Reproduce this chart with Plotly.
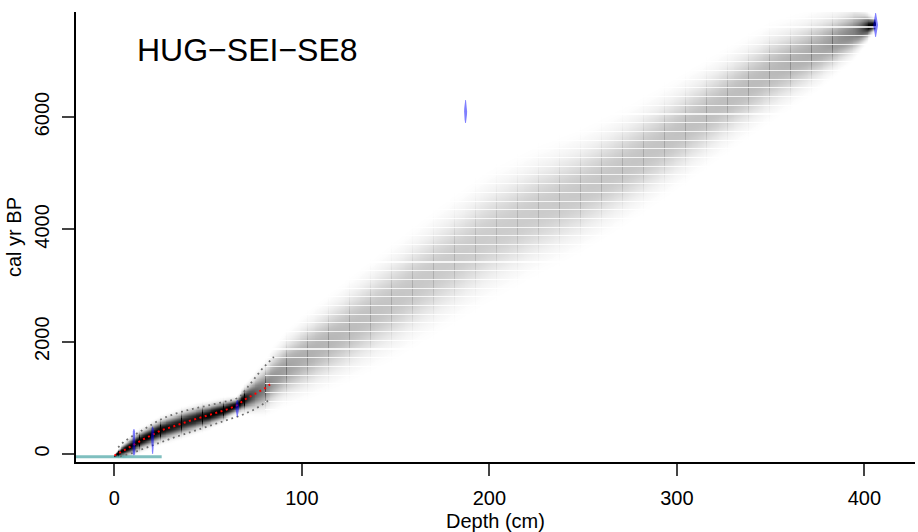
import numpy as np
import plotly.graph_objects as go

# ---------------- data ----------------
core_name = "HUG\u2212SEI\u2212SE8"

# age-depth model: mean age and visible half-width of the grey cloud
model_depth = [0, 2, 5, 10, 15, 20, 25, 30, 35, 40, 45, 50, 55, 60, 65, 70, 75, 80, 85, 90,
               100, 125, 150, 175, 200, 225, 250, 275, 300, 325, 350, 375, 395, 400, 406]
model_mean = [-40, 10, 60, 160, 255, 340, 425, 475, 535, 590, 640, 685, 740, 795, 860, 980,
              1070, 1165, 1330, 1480, 1690, 2200, 2740, 3320, 3880, 4320, 4700, 5170, 5700,
              6260, 6800, 7200, 7520, 7590, 7650]
model_halfwidth = [20, 60, 100, 140, 150, 160, 170, 180, 185, 185, 180, 170, 160, 140, 110,
                   180, 260, 330, 400, 440, 520, 640, 740, 800, 840, 820, 780, 740, 700, 660,
                   620, 500, 330, 220, 80]

# red dotted mean line
mean_depth = [0, 5, 10, 15, 20, 25, 30, 35, 40, 45, 50, 55, 60, 65, 70, 75, 80, 83]
mean_age = [-30, 60, 160, 255, 340, 425, 475, 535, 590, 640, 685, 740, 795, 860, 980, 1070, 1165, 1240]

# grey dotted 95% ranges
upper_depth = [2, 5, 9, 13, 17, 20, 24, 28, 33, 40, 47, 53, 60, 64, 67, 70, 74, 79, 85]
upper_age = [120, 220, 308, 390, 458, 520, 605, 665, 725, 790, 843, 890, 932, 970, 1020, 1150, 1318, 1526, 1730]
lower_depth = [3, 6, 10, 13.6, 20.7, 27.8, 33, 38.5, 44, 49, 55, 60, 64, 68, 74, 78, 83]
lower_age = [-40, -10, 20, 71, 160, 249, 310, 368, 430, 486, 545, 605, 650, 694, 784, 860, 974]

# calibrated dates (blue): depth, ages, half-width (cm) of the probability shape
date_depths = [10.4, 20.4, 65.5, 187.3, 406.0]
date_ages = [
    [-20, 0, 50, 100, 150, 200, 250, 300, 350, 400, 445],
    [0, 50, 100, 150, 200, 250, 300, 350, 400, 450, 500],
    [665, 700, 750, 800, 850, 900, 940, 962],
    [5895, 5950, 6000, 6050, 6100, 6150, 6200, 6250, 6305],
    [7427, 7480, 7540, 7600, 7640, 7680, 7740, 7800, 7854],
]
date_widths = [
    [0.2, 0.6, 0.7, 0.7, 0.7, 0.7, 0.7, 0.7, 0.7, 0.6, 0.2],
    [0.2, 0.45, 0.45, 0.5, 0.6, 0.85, 0.9, 0.9, 0.8, 0.55, 0.2],
    [0.2, 0.45, 0.75, 0.95, 0.95, 0.85, 0.5, 0.2],
    [0.2, 0.5, 0.65, 0.75, 0.8, 0.75, 0.65, 0.5, 0.2],
    [0.2, 0.5, 0.8, 1.1, 1.3, 1.1, 0.8, 0.5, 0.2],
]

# coring-date line (teal)
coring_depth = [-20.5, 25.2]
coring_age = [-48, -48]

x_ticks = [0, 100, 200, 300, 400]
y_ticks = [0, 2000, 4000, 6000]
x_range = [-20.5, 427]
y_range = [-142, 7872]

# ---------------- figure ----------------
FONT = "Liberation Sans, Arial, Helvetica, sans-serif"
fig = go.Figure()

# grey cloud rendered from the mean / width profile (with the raster seams of the original)
STRIPE_YR = 155.0          # spacing of the light raster seams
SEAM_CM = 11.2             # spacing of the dark column seams
xg = np.arange(0, 406.25, 0.5)
yg = np.arange(-150, 7900, STRIPE_YR / 16)
m = np.interp(xg, model_depth, model_mean)
s = np.interp(xg, model_depth, model_halfwidth) * 0.6
dark = np.minimum(1.0, 100.0 / s)
u = np.abs((yg[:, None] - m[None, :]) / s[None, :])
z = dark[None, :] * np.exp(-0.5 * u ** 2.3)
col_seam = (np.abs(((xg - 2.2 + SEAM_CM / 2) % SEAM_CM) - SEAM_CM / 2) < 0.26)
z[:, col_seam] = np.minimum(1.0, z[:, col_seam] * 1.5)
row_seam = (np.arange(len(yg)) % 16) < 2
wide = xg > 80
z[np.ix_(row_seam, wide)] *= 0.2
z = np.round(z, 3)
fig.add_trace(go.Heatmap(x=xg, y=yg, z=z, zmin=0, zmax=1,
                         colorscale=[[0, "rgba(255,255,255,0)"], [0.02, "rgb(250,250,250)"], [1, "black"]],
                         showscale=False, hoverinfo="skip"))

# teal coring line
fig.add_trace(go.Scatter(x=coring_depth, y=coring_age, mode="lines",
                         line=dict(color="rgba(0,128,128,0.5)", width=3), hoverinfo="skip"))

# grey dotted ranges
for dx, ay in [(upper_depth, upper_age), (lower_depth, lower_age)]:
    fig.add_trace(go.Scatter(x=dx, y=ay, mode="lines",
                             line=dict(color="rgb(110,110,110)", width=1.8, dash="1.8px,3.8px"),
                             hoverinfo="skip"))
# red dotted mean
fig.add_trace(go.Scatter(x=mean_depth, y=mean_age, mode="lines",
                         line=dict(color="red", width=2, dash="2px,3.5px"), hoverinfo="skip"))

# calibrated dates
for d, ages, ws in zip(date_depths, date_ages, date_widths):
    ages = np.array(ages, float)
    ws = np.array(ws, float)
    px = np.concatenate([d + ws, (d - ws)[::-1]])
    py = np.concatenate([ages, ages[::-1]])
    fig.add_trace(go.Scatter(x=px, y=py, mode="lines", fill="toself",
                             fillcolor="rgba(0,0,255,0.5)", line=dict(width=0),
                             hoverinfo="skip"))

fig.update_layout(
    width=918, height=532,
    margin=dict(l=76, r=3, t=12, b=70),
    paper_bgcolor="white", plot_bgcolor="white",
    showlegend=False,
    font=dict(family=FONT, size=20, color="black"),
    annotations=[
        dict(text=core_name, xref="paper", yref="paper", x=0.0703, y=0.9156,
             xanchor="left", yanchor="middle", showarrow=False,
             font=dict(family=FONT, size=32, color="black")),
        dict(text="Depth (cm)", xref="paper", yref="paper", x=0.5, y=-0.131,
             xanchor="center", yanchor="middle", showarrow=False,
             font=dict(family=FONT, size=20)),
    ],
)
fig.update_xaxes(range=x_range, tickvals=x_ticks, ticks="outside", ticklen=12, tickwidth=2,
                 showline=True, linecolor="black", linewidth=2, showgrid=False, zeroline=False,
                 ticklabelstandoff=5, tickfont=dict(size=20))
fig.update_yaxes(range=y_range, tickvals=y_ticks, ticks="outside", ticklen=12, tickwidth=2,
                 showline=True, linecolor="black", linewidth=2, showgrid=False, zeroline=False,
                 tickangle=-90, ticklabelstandoff=5, tickfont=dict(size=20),
                 title=dict(text="cal yr BP", standoff=4, font=dict(family=FONT, size=20)))

fig.write_html("out.html")
